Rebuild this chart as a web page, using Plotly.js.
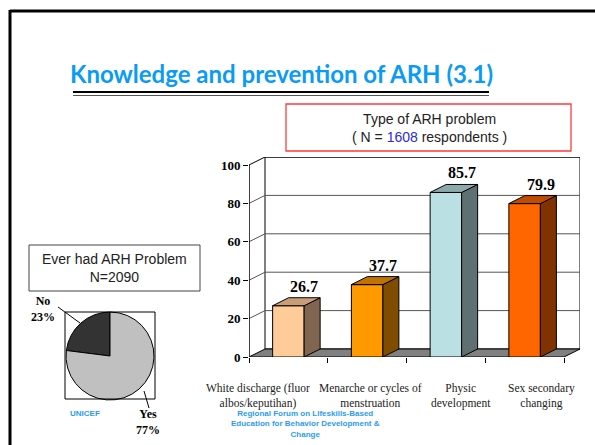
<!DOCTYPE html>
<html>
<head>
<meta charset="utf-8">
<script src="https://cdn.plot.ly/plotly-3.0.1.min.js"></script>
<style>html,body{margin:0;padding:0;background:#fff;}#chart{width:595px;height:445px;}</style>
</head>
<body>
<div id="chart"></div>
<script>
// ---------- data ----------
const categories = ['White discharge (fluor<br>albos/keputihan)', 'Menarche or cycles of<br>menstruation', 'Physic<br>development', 'Sex secondary<br>changing'];
const values = [26.7, 37.7, 85.7, 79.9];
const yTicks = [0, 20, 40, 60, 80, 100];
const pieLabels = ['No', 'Yes'];
const pieValues = [23, 77];
const pieTitle = 'Ever had ARH Problem<br>N=2090';
const respondents = 1608;

// ---------- style ----------
const frontColors = ['#FFCC99', '#FF9900', '#BBE0E3', '#FF6600'];
const sideColors  = ['#806650', '#804C00', '#5E7072', '#803300'];
const topColors   = ['#C89E78', '#C07300', '#8CA8AA', '#C04C00'];
const labelNudge  = [-30, 3, 15, 17];
const W = 595, H = 445;
const X = px => px / W;
const Y = py => 1 - py / H;
const pxPerX = 78.75, pxPerY = 1.92;
const DX = 16 / pxPerX, DY = 8 / pxPerY;
const BW = 0.4;
const serif = 'Liberation Serif, Times New Roman, serif';
const sans = 'Liberation Sans, Arial, sans-serif';

const traces = [];
// front faces
traces.push({
  type: 'bar', x: values.map((v, i) => i), y: values, width: BW,
  marker: {color: frontColors, line: {color: '#000', width: 1}},
  hoverinfo: 'skip', showlegend: false, xaxis: 'x', yaxis: 'y'
});
// side and top faces
values.forEach((v, i) => {
  const r = i + BW / 2, l = i - BW / 2;
  traces.push({
    type: 'scatter', mode: 'lines', fill: 'toself', fillcolor: sideColors[i],
    x: [r, r + DX, r + DX, r, r], y: [0, DY, v + DY, v, 0],
    line: {color: '#000', width: 1}, hoverinfo: 'skip', showlegend: false
  });
  traces.push({
    type: 'scatter', mode: 'lines', fill: 'toself', fillcolor: topColors[i],
    x: [l, l + DX, r + DX, r, l], y: [v, v + DY, v + DY, v, v],
    line: {color: '#000', width: 1}, hoverinfo: 'skip', showlegend: false
  });
});
// pie: first slice (No) from 12 o'clock going counter-clockwise
const pieTotal = pieValues.reduce((a, b) => a + b, 0);
traces.push({
  type: 'pie', labels: pieLabels, values: pieValues, sort: false,
  direction: 'clockwise', rotation: -360 * pieValues[0] / pieTotal,
  marker: {colors: ['#333333', '#C0C0C0'], line: {color: '#000', width: 1}},
  textinfo: 'none', hoverinfo: 'skip', showlegend: false,
  domain: {x: [X(66), X(154)], y: [Y(400), Y(312)]}
});

const x0 = -0.5, x1 = values.length - 0.5;
const shapes = [];
// back wall
shapes.push({type: 'rect', xref: 'x', yref: 'y', x0: x0 + DX, x1: x1 + DX, y0: DY, y1: 100 + DY,
  fillcolor: '#fff', line: {color: '#000', width: 1}, layer: 'below'});
// gridlines (side diagonal + back horizontal)
yTicks.forEach(t => {
  if (t === 0) return;
  shapes.push({type: 'path', xref: 'x', yref: 'y', layer: 'below',
    path: `M ${x0},${t} L ${x0 + DX},${t + DY} L ${x1 + DX},${t + DY}`,
    line: {color: t === 100 ? '#000' : '#555', width: 1}});
});
// floor
shapes.push({type: 'path', xref: 'x', yref: 'y', layer: 'below',
  path: `M ${x0},0 L ${x1},0 L ${x1 + DX},${DY} L ${x0 + DX},${DY} Z`,
  fillcolor: '#808080', line: {color: '#000', width: 1}});
// y axis line
shapes.push({type: 'line', xref: 'x', yref: 'y', x0: x0, x1: x0, y0: 0, y1: 100,
  line: {color: '#000', width: 1.5}});
// slide frame
shapes.push({type: 'line', xref: 'paper', yref: 'paper', x0: X(10), x1: X(600), y0: Y(11), y1: Y(11), line: {color: '#000', width: 3}});
shapes.push({type: 'line', xref: 'paper', yref: 'paper', x0: X(10), x1: X(10), y0: Y(10), y1: Y(450), line: {color: '#000', width: 3}});
// title underline
shapes.push({type: 'line', xref: 'paper', yref: 'paper', x0: X(73), x1: X(489), y0: Y(92), y1: Y(92), line: {color: '#000', width: 2}});
shapes.push({type: 'line', xref: 'paper', yref: 'paper', x0: X(73), x1: X(489), y0: Y(95.5), y1: Y(95.5), line: {color: '#555', width: 1}});
// red title box
shapes.push({type: 'rect', xref: 'paper', yref: 'paper', x0: X(286), x1: X(571), y0: Y(104), y1: Y(151), line: {color: '#FF3B3B', width: 1.3}});
// pie title box
shapes.push({type: 'rect', xref: 'paper', yref: 'paper', x0: X(29), x1: X(200), y0: Y(245), y1: Y(291), line: {color: '#444', width: 1}});
// pie square
shapes.push({type: 'rect', xref: 'paper', yref: 'paper', x0: X(65), x1: X(155), y0: Y(312), y1: Y(399), line: {color: '#000', width: 1}});
// pie leader lines
shapes.push({type: 'line', xref: 'paper', yref: 'paper', x0: X(58), x1: X(80), y0: Y(307), y1: Y(323), line: {color: '#000', width: 1}});
shapes.push({type: 'line', xref: 'paper', yref: 'paper', x0: X(144), x1: X(149), y0: Y(391), y1: Y(408), line: {color: '#000', width: 1}});

const annotations = [];
const ann = o => annotations.push(Object.assign({showarrow: false, xanchor: 'center', yanchor: 'middle'}, o));
// value labels
values.forEach((v, i) => ann({
  xref: 'x', yref: 'y', x: i + DX, y: v + DY, yanchor: 'bottom', yshift: 1,
  text: '<b>' + v.toFixed(1) + '</b>', font: {family: serif, size: 16, color: '#000'}
}));
// category labels
categories.forEach((c, i) => ann({
  xref: 'x', yref: 'y', x: i, y: 0, yanchor: 'top', yshift: -23, xshift: labelNudge[i],
  text: c, font: {family: serif, size: 11.5, color: '#222'}
}));
// texts
ann({xref: 'paper', yref: 'paper', x: X(281), y: Y(73),
  text: '<b>Knowledge and prevention of ARH (3.1)</b>', font: {family: 'Lato, sans-serif', size: 24, color: '#0A9BF5'}});
ann({xref: 'paper', yref: 'paper', x: X(429), y: Y(128),
  text: 'Type of ARH problem<br>( N = <span style="color:#2B2BD0">' + respondents + '</span> respondents )',
  font: {family: sans, size: 14, color: '#222'}});
ann({xref: 'paper', yref: 'paper', x: X(114), y: Y(268),
  text: pieTitle, font: {family: sans, size: 14, color: '#222'}});
ann({xref: 'paper', yref: 'paper', x: X(43), y: Y(309),
  text: '<b>' + pieLabels[0] + '<br>' + pieValues[0] + '%</b>', font: {family: serif, size: 12, color: '#000'}});
ann({xref: 'paper', yref: 'paper', x: X(148), y: Y(422),
  text: '<b>' + pieLabels[1] + '<br>' + pieValues[1] + '%</b>', font: {family: serif, size: 12, color: '#000'}});
ann({xref: 'paper', yref: 'paper', x: X(85), y: Y(413),
  text: '<b>UNICEF</b>', font: {family: sans, size: 8, color: '#2A9CF0'}});
ann({xref: 'paper', yref: 'paper', x: X(306), y: Y(424),
  text: '<b>Regional Forum on Lifeskills-Based<br>Education for Behavior Development &amp;<br>Change</b>',
  font: {family: sans, size: 8, color: '#2A9CF0'}});

const layout = {
  width: W, height: H, margin: {l: 0, r: 0, t: 0, b: 0},
  paper_bgcolor: '#fff', plot_bgcolor: 'rgba(0,0,0,0)',
  showlegend: false, hovermode: false, bargap: 0,
  xaxis: {domain: [X(249), X(249 + 315 + 16)], range: [x0, x1 + DX],
    tickvals: values.map((v, i) => i - 0.5).concat([x1]), ticks: 'outside', ticklen: 5, tickcolor: '#000',
    showticklabels: false, showgrid: false, zeroline: false, showline: false, fixedrange: true},
  yaxis: {domain: [Y(357), Y(357 - (100 + DY) * pxPerY)], range: [0, 100 + DY],
    tickvals: yTicks, ticktext: yTicks.map(t => '<b>' + t + '</b>'), ticks: 'outside', ticklen: 5, tickcolor: '#000',
    tickfont: {family: serif, size: 13, color: '#000'},
    showgrid: false, zeroline: false, showline: false, fixedrange: true},
  shapes: shapes, annotations: annotations
};

Plotly.newPlot('chart', traces, layout, {displayModeBar: false, staticPlot: true});
</script>
</body>
</html>
